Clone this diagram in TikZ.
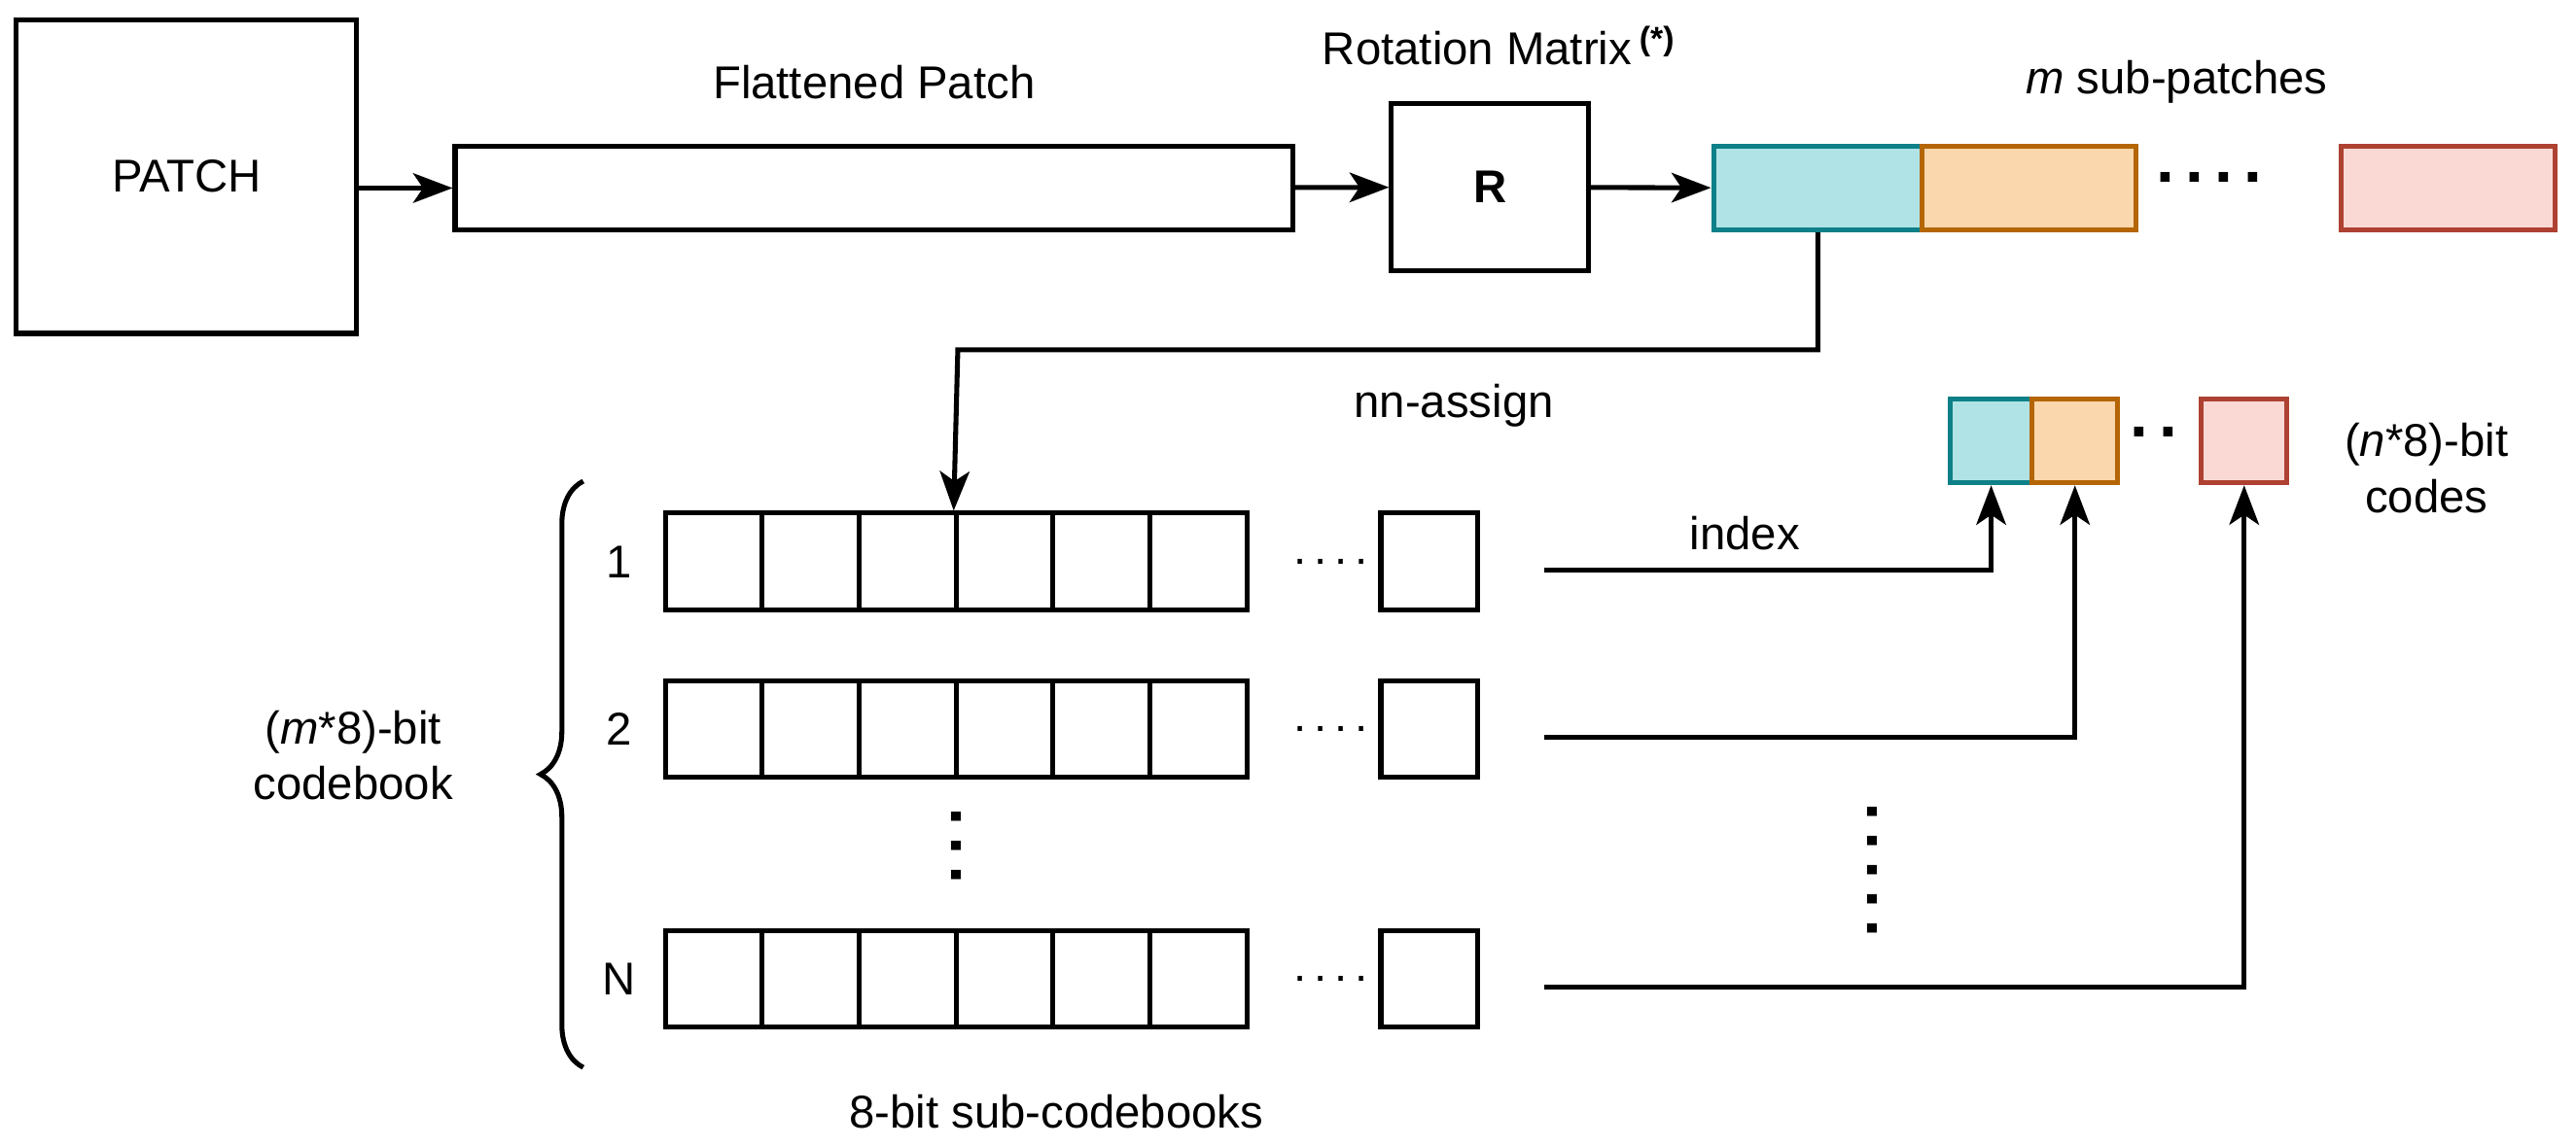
\documentclass[tikz,border=0pt]{standalone}
\usepackage{fontspec}
\setmainfont{Liberation Sans}
\usetikzlibrary{arrows.meta,decorations.pathreplacing}
\definecolor{tealfill}{HTML}{B0E3E6}\definecolor{tealline}{HTML}{0E8088}
\definecolor{orfill}{HTML}{FAD7AC}\definecolor{orline}{HTML}{B46504}
\definecolor{redfill}{HTML}{FAD9D5}\definecolor{redline}{HTML}{AE4132}
\tikzset{
  box/.style={draw,line width=1.5pt,inner sep=0pt,font=\fontsize{14}{16}\selectfont},
  cell/.style={box,minimum width=29.5pt,minimum height=29.5pt},
  lab/.style={font=\fontsize{14}{17}\selectfont,align=center},
  conn/.style={line width=1.5pt,-{Stealth[length=12pt,width=9pt,inset=3pt]}},
  dots/.style={font=\fontsize{20}{20}\selectfont\bfseries}
}
\begin{document}
\begin{tikzpicture}[x=0.5pt,y=-0.5pt]
\useasboundingbox (0,0) rectangle (1568,698);
%
% top row
\node[box,minimum width=103.5pt,minimum height=95.5pt] (patch) at (113.5,107.5) {PATCH};
\node[box,minimum width=255pt,minimum height=25.5pt] (flat) at (532,114.5) {};
\node[lab] (flatlab) at (532,50) {Flattened Patch};
\node[box,minimum width=60pt,minimum height=51pt] (rot) at (907,114) {\textbf{R}};
\node[lab] (rotlab) at (912,28) {Rotation Matrix\,\raisebox{.6ex}{\fontsize{10}{10}\selectfont\textbf{(*)}}};
\node[box,fill=tealfill,draw=tealline,minimum width=63.5pt,minimum height=25.5pt] (sp1) at (1106.5,114.5) {};
\node[box,fill=orfill,draw=orline,minimum width=65pt,minimum height=25.5pt] (sp2) at (1235,114.5) {};
\node[dots] (spdots) at (1345,108) {.\,.\,.\,.};
\node[box,fill=redfill,draw=redline,minimum width=65pt,minimum height=25.5pt] (spm) at (1490,114.5) {};
\node[lab] (splab) at (1325,50) {\textit{m} sub-patches};
\draw[conn] (patch.east |- flat.west) -- (flat.west);
\draw[conn] (flat) -- (rot);
\draw[conn] (rot) -- (sp1);
%
% codebook rows
\foreach \r/\y/\t in {1/342/1,2/444/2,3/596/N}{
  \node[lab] (num\r) at (377,\y) {\t};
  \foreach \c in {1,...,6}
    \node[cell] (r\r c\c) at ({405+29.5+(\c-1)*59},\y) {};
  \node[lab] (rdots\r) at (810,\y) {.\,.\,.\,.};
  \node[cell] (r\r last) at (870,\y) {};
  \coordinate (out\r) at (940,{\y+5});
}
\node[dots] (vdots1) at (582,515) {\rotatebox{90}{.\,.\,.}};
\draw[line width=1.5pt,decorate,decoration={brace,amplitude=13pt}] (355,650) -- (355,293);
\node[lab] (cblab) at (215,460) {(\textit{m}*8)-bit\\codebook};
\node[lab] (subcb) at (643,677) {8-bit sub-codebooks};
\draw[conn] (sp1.south) |- (583,213) -- (r1c4.north west);
\node[lab] (nn) at (885,247) {nn-assign};
%
% codes
\node[box,fill=tealfill,draw=tealline,minimum width=25pt,minimum height=25.5pt] (cd1) at (1212,268.5) {};
\node[box,fill=orfill,draw=orline,minimum width=26pt,minimum height=25.5pt] (cd2) at (1263,268.5) {};
\node[dots] (cddots) at (1311,263) {.\,.};
\node[box,fill=redfill,draw=redline,minimum width=26pt,minimum height=25.5pt] (cdm) at (1366,268.5) {};
\node[lab] (cdlab) at (1477,285) {(\textit{n}*8)-bit\\codes};
\draw[conn] (out1) -| (cd1.south);
\draw[conn] (out2) -| (cd2.south);
\draw[conn] (out3) -| (cdm.south);
\node[lab] (idx) at (1062,325) {index};
\node[dots] (vdots2) at (1140,530) {\rotatebox{90}{.\,.\,.\,.\,.}};
\end{tikzpicture}
\end{document}
